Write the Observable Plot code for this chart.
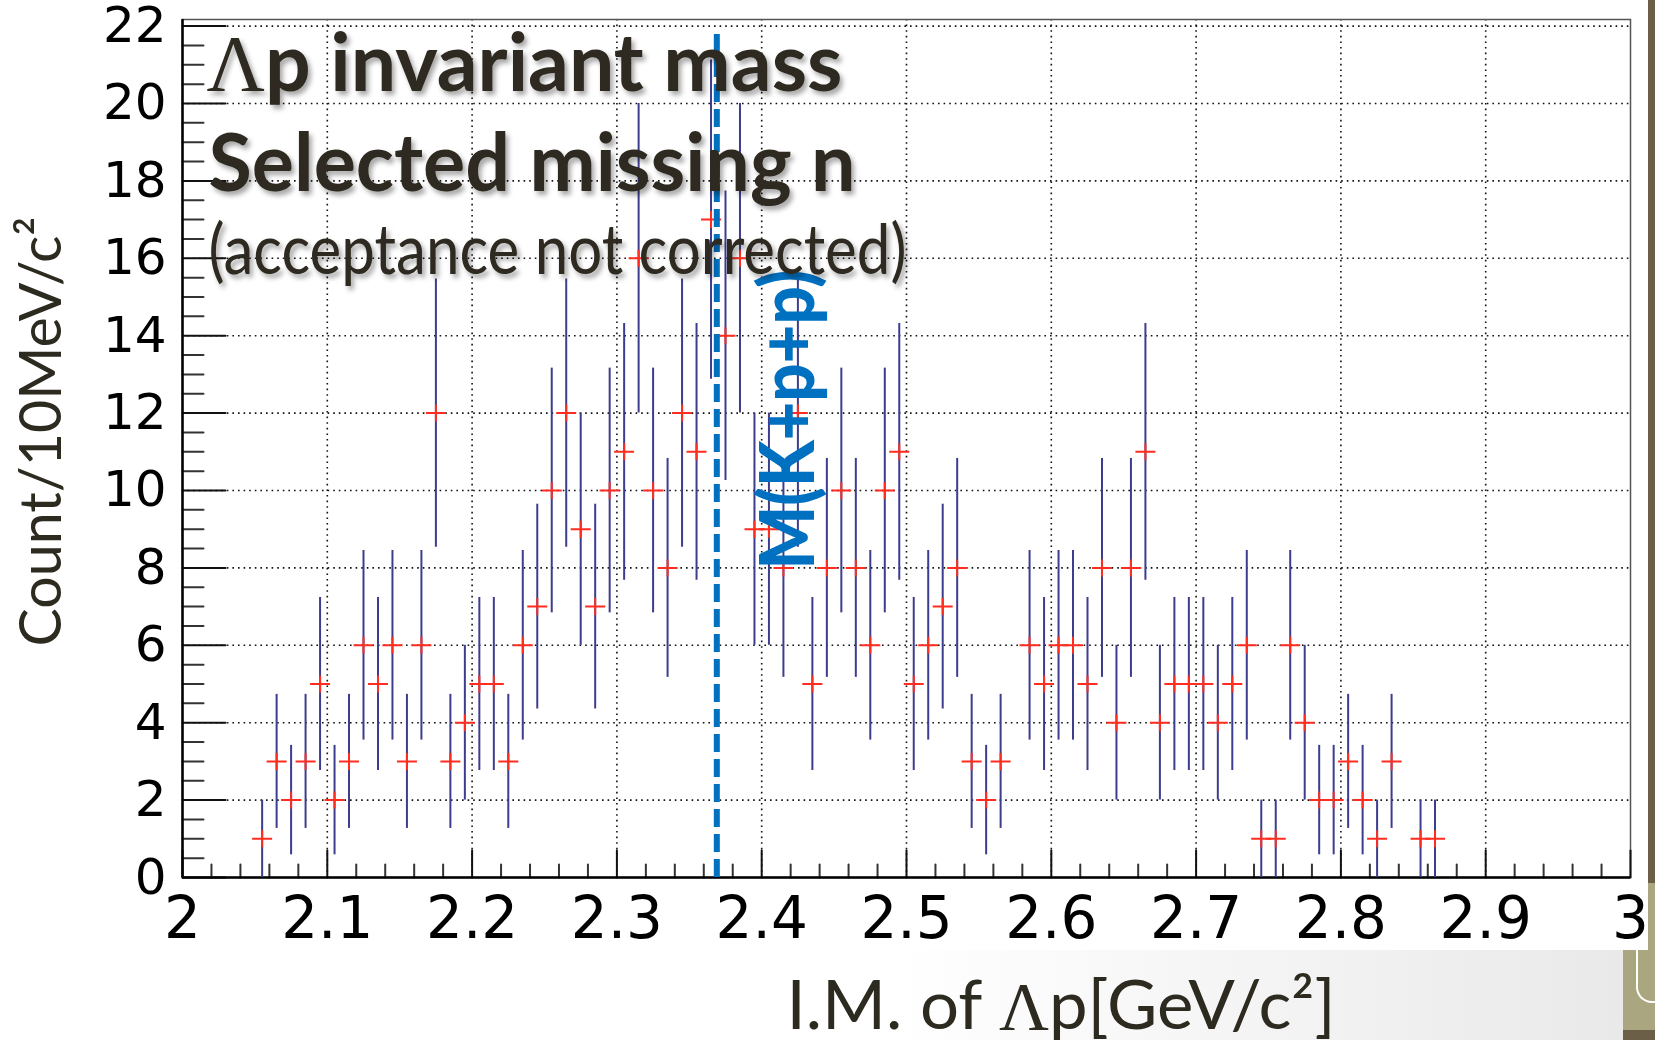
<!DOCTYPE html>
<html>
<head>
<meta charset="utf-8">
<script src="https://cdn.jsdelivr.net/npm/d3@7"></script>
<script src="https://cdn.jsdelivr.net/npm/@observablehq/plot@0.6"></script>
<style>
  html, body { margin: 0; padding: 0; background: #ffffff; }
  #wrap { position: relative; width: 1655px; height: 1040px; overflow: hidden; background: #ffffff; }
  #chart { position: absolute; left: 0; top: 0; }
  .deco { position: absolute; }
</style>
</head>
<body>
<div id="wrap">
  <div class="deco" style="left:0;top:950px;width:1623px;height:90px;background:linear-gradient(to right,#ffffff 55%,#e9e9e9 100%);"></div>
  <div class="deco" style="left:1648px;top:0;width:7px;height:883px;background:#6b5f47;"></div>
  <div class="deco" style="left:1648px;top:883px;width:7px;height:67px;background:#aaa67f;"></div>
  <div class="deco" style="left:1623px;top:950px;width:32px;height:80px;background:#aaa67f;"></div>
  <div class="deco" style="left:1623px;top:1030px;width:32px;height:10px;background:#6b5f47;"></div>
  <div class="deco" style="left:1636px;top:945px;width:30px;height:56px;border-left:2px solid #fff;border-bottom:2px solid #fff;border-bottom-left-radius:16px;"></div>
  <div id="chart"></div>
</div>
<script>
// ---- data ----
const binCenters = [
  2.055, 2.065, 2.075, 2.085, 2.095, 2.105, 2.115, 2.125, 2.135, 2.145,
  2.155, 2.165, 2.175, 2.185, 2.195, 2.205, 2.215, 2.225, 2.235, 2.245,
  2.255, 2.265, 2.275, 2.285, 2.295, 2.305, 2.315, 2.325, 2.335, 2.345,
  2.355, 2.365, 2.375, 2.385, 2.395, 2.405, 2.415, 2.425, 2.435, 2.445,
  2.455, 2.465, 2.475, 2.485, 2.495, 2.505, 2.515, 2.525, 2.535, 2.545,
  2.555, 2.565, 2.575, 2.585, 2.595, 2.605, 2.615, 2.625, 2.635, 2.645,
  2.655, 2.665, 2.675, 2.685, 2.695, 2.705, 2.715, 2.725, 2.735, 2.745,
  2.755, 2.765, 2.775, 2.785, 2.795, 2.805, 2.815, 2.825, 2.835, 2.845,
  2.855, 2.865
];
const counts = [
  1, 3, 2, 3, 5, 2, 3, 6, 5, 6,
  3, 6, 12, 3, 4, 5, 5, 3, 6, 7,
  10, 12, 9, 7, 10, 11, 16, 10, 8, 12,
  11, 17, 14, 16, 9, 9, 8, 12, 5, 8,
  10, 8, 6, 10, 11, 5, 6, 7, 8, 3,
  2, 3, 0, 6, 5, 6, 6, 5, 8, 4,
  8, 11, 4, 5, 5, 5, 4, 5, 6, 1,
  1, 6, 4, 2, 2, 3, 2, 1, 3, 0,
  1, 1
];
const mKpp = 2.369;               // M(K+ + p + p) threshold, GeV/c^2
const mKppLabel = "M(K+p+p)";

const xTickValues = [2, 2.1, 2.2, 2.3, 2.4, 2.5, 2.6, 2.7, 2.8, 2.9, 3];
const xTickLabels = ["2", "2.1", "2.2", "2.3", "2.4", "2.5", "2.6", "2.7", "2.8", "2.9", "3"];
const yTickValues = [0, 2, 4, 6, 8, 10, 12, 14, 16, 18, 20, 22];
const yTickLabels = ["0", "2", "4", "6", "8", "10", "12", "14", "16", "18", "20", "22"];
const xMinorStep = 0.02;
const yMinorStep = 0.5;

const titleLines = ["Λp invariant mass", "Selected missing n", "(acceptance not corrected)"];
const yLabel = "Count/10MeV/c²";
const xLabel = "I.M. of Λp[GeV/c²]";

// ---- build ----
const data = binCenters.map((x, i) => ({x, n: counts[i], e: Math.sqrt(counts[i])})).filter(d => d.n > 0);
const xMinor = d3.range(0, 51).map(i => 2 + i * xMinorStep).filter(v => Math.abs(v * 10 - Math.round(v * 10)) > 1e-6);
const yMinor = d3.range(0, 45).map(i => i * yMinorStep).filter(v => v % 2 !== 0);
const xGrid = xTickValues.slice(1, -1);
const yGrid = yTickValues.slice(1);

const plusSymbol = {
  draw(ctx, size) {
    const r = Math.sqrt(size / Math.PI);
    ctx.moveTo(-r, 0); ctx.lineTo(r, 0);
    ctx.moveTo(0, -r * 0.85); ctx.lineTo(0, r * 0.85);
  }
};
const lineShape = { draw(ctx, l) { ctx.moveTo(0, 0); ctx.lineTo(0, -l); } };

const tickFont = "'DejaVu Sans', Verdana, sans-serif";
const textFont = "Lato, 'Open Sans', sans-serif";
const ink = "#2d2a20";
const blue = "#0070c0";

const chart = Plot.plot({
  width: 1655,
  height: 1040,
  marginLeft: 182,
  marginRight: 25,
  marginTop: 19,
  marginBottom: 163,
  style: {background: "transparent", overflow: "visible"},
  x: {domain: [2, 3], axis: null},
  y: {domain: [0, 22.17], axis: null},
  marks: [
    // grid
    Plot.ruleY(yGrid, {y: d => d, stroke: "#111", strokeWidth: 1.6, strokeDasharray: "1.6,4"}),
    Plot.ruleX(xGrid, {x: d => d, stroke: "#111", strokeWidth: 1.6, strokeDasharray: "1.6,4"}),
    Plot.frame({stroke: "#555", strokeWidth: 1.5}),
    // ticks (inside the frame)
    Plot.vector(yMinor, {y: d => d, frameAnchor: "left", length: 21, rotate: 90, anchor: "start", shape: lineShape, stroke: "#333", strokeWidth: 2}),
    Plot.vector(yTickValues, {y: d => d, frameAnchor: "left", length: 43, rotate: 90, anchor: "start", shape: lineShape, stroke: "#111", strokeWidth: 2}),
    Plot.vector(xMinor, {x: d => d, frameAnchor: "bottom", length: 13, rotate: 0, anchor: "start", shape: lineShape, stroke: "#333", strokeWidth: 2}),
    Plot.vector(xTickValues, {x: d => d, frameAnchor: "bottom", length: 27, rotate: 0, anchor: "start", shape: lineShape, stroke: "#111", strokeWidth: 2}),
    Plot.ruleX([2], {x: d => d, stroke: "#000", strokeWidth: 2.5}),
    Plot.ruleY([0], {y: d => d, stroke: "#000", strokeWidth: 2.5}),
    // tick labels
    Plot.text(yTickValues, {y: d => d, text: (d, i) => yTickLabels[i], frameAnchor: "left", dx: -16, textAnchor: "end", lineAnchor: "middle", fontSize: 50, fontFamily: tickFont, fill: "#000"}),
    Plot.text(xTickValues, {x: d => d, text: (d, i) => xTickLabels[i], frameAnchor: "bottom", dy: 60, textAnchor: "middle", lineAnchor: "bottom", fontSize: 58, fontFamily: tickFont, fill: "#000"}),
    // data: error bars and markers
    Plot.ruleX(data, {x: "x", y1: d => d.n - d.e, y2: d => d.n + d.e, stroke: "#3d3d8e", strokeWidth: 2}),
    Plot.dot(data, {x: "x", y: "n", symbol: plusSymbol, r: 10, stroke: "#ff2d1f", strokeWidth: 2, fill: "none"}),
    // threshold line and label
    Plot.ruleX([mKpp], {x: d => d, y1: 0, y2: 21.9, stroke: blue, strokeWidth: 6, strokeDasharray: "18,7"}),
    Plot.text([mKppLabel], {x: mKpp, frameAnchor: "top", dx: 73, dy: 400, rotate: -90, text: d => d, textAnchor: "middle", lineAnchor: "middle", fontSize: 76, fontWeight: 900, fontFamily: textFont, fill: blue}),
    // annotations
    Plot.text([titleLines[0]], {frameAnchor: "top-left", dx: 24, dy: 71, text: d => d, textAnchor: "start", lineAnchor: "bottom", fontSize: 80, fontWeight: "bold", fontFamily: textFont, fill: ink}),
    Plot.text([titleLines[1]], {frameAnchor: "top-left", dx: 26, dy: 171, text: d => d, textAnchor: "start", lineAnchor: "bottom", fontSize: 80, fontWeight: "bold", fontFamily: textFont, fill: ink}),
    Plot.text([titleLines[2]], {frameAnchor: "top-left", dx: 26, dy: 254, text: d => d, textAnchor: "start", lineAnchor: "bottom", fontSize: 70, fontFamily: textFont, fill: ink}),
    // axis titles
    Plot.text([yLabel], {frameAnchor: "left", dx: -122, dy: -17, rotate: -90, text: d => d, textAnchor: "middle", lineAnchor: "bottom", fontSize: 58, fontFamily: textFont, fill: ink}),
    Plot.text([xLabel], {frameAnchor: "bottom-left", dx: 604, dy: 151, text: d => d, textAnchor: "start", lineAnchor: "bottom", fontSize: 68, fontFamily: textFont, fill: ink})
  ]
});

document.getElementById("chart").appendChild(chart);

// ---- post-render text tuning: widths, serif Lambda, shadow ----
const svg = d3.select(chart);
const defs = svg.insert("defs", ":first-child");
const f = defs.append("filter").attr("id", "tshadow").attr("x", "-5%").attr("y", "-30%").attr("width", "115%").attr("height", "170%");
f.append("feDropShadow").attr("dx", 3).attr("dy", 4).attr("stdDeviation", 2.5).attr("flood-color", "#000").attr("flood-opacity", 0.35);

function fit(content, len, opts = {}) {
  svg.selectAll("text").filter(function() { return this.textContent === content; }).each(function() {
    const t = d3.select(this);
    t.attr("textLength", len).attr("lengthAdjust", "spacingAndGlyphs");
    if (opts.shadow) t.attr("filter", "url(#tshadow)");
    if (opts.lambda) {
      const rest = content.split("Λ");
      t.text(null);
      t.append("tspan").text(rest[0]);
      t.append("tspan").attr("font-family", "'Liberation Serif', 'DejaVu Serif', serif").attr("font-weight", "normal").text("Λ");
      t.append("tspan").text(rest[1]);
    }
  });
}
fit(titleLines[0], 636, {shadow: true, lambda: true});
fit(titleLines[1], 647, {shadow: true});
fit(titleLines[2], 698, {shadow: true});
fit(yLabel, 430);
fit(xLabel, 549, {lambda: true});
fit(mKppLabel, 300);
</script>
</body>
</html>
